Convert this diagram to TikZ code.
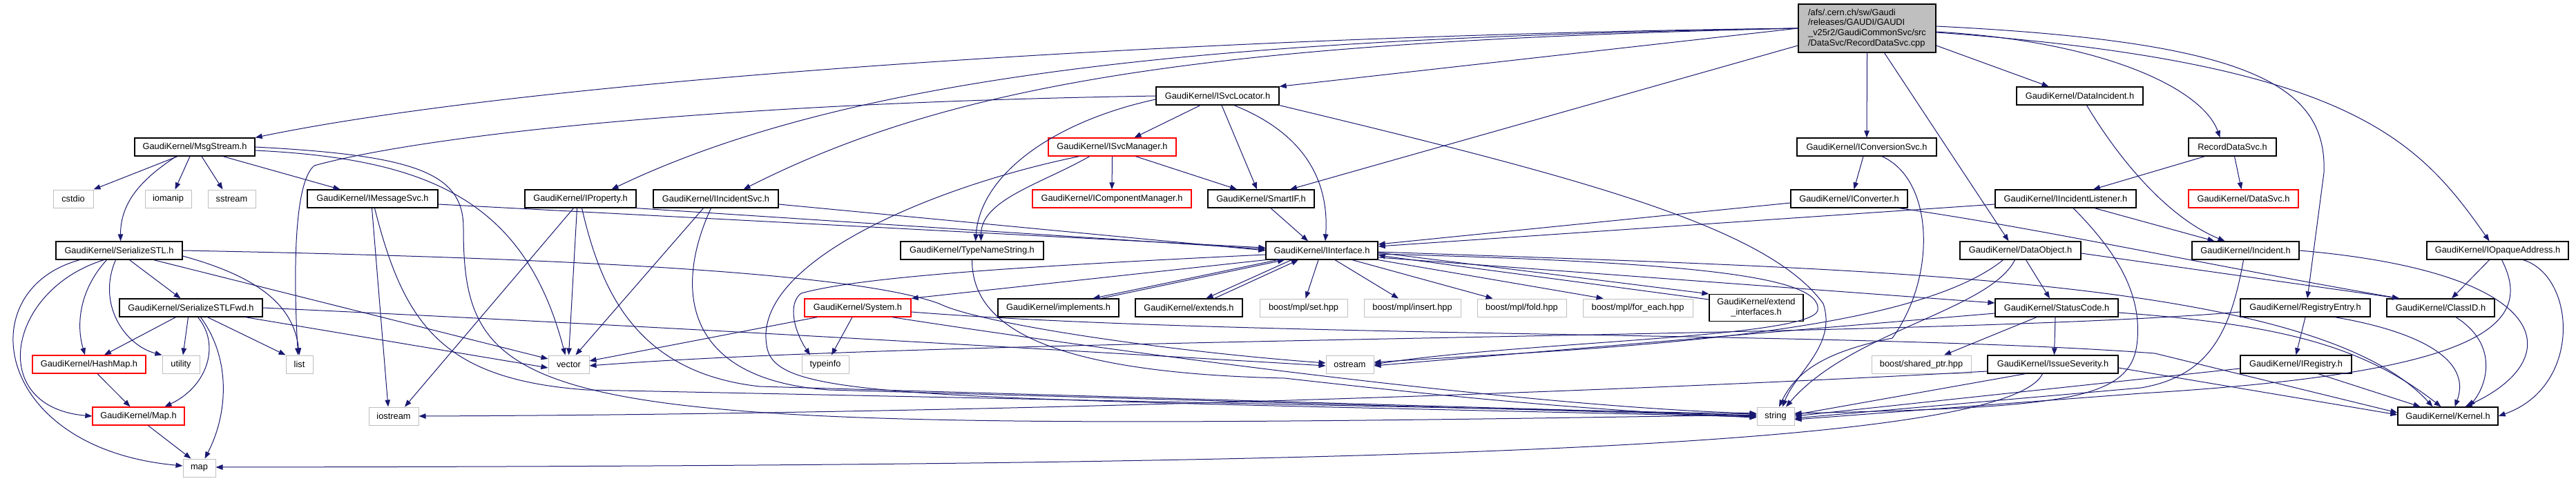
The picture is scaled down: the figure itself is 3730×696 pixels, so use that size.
\documentclass[tikz,border=0pt]{standalone}
\usepackage{fontspec}
\setmainfont{Liberation Sans}
\usepackage{tikz}
\usetikzlibrary{arrows.meta}
\definecolor{depblue}{HTML}{191970}

\begin{document}
\begin{tikzpicture}[
        x=1pt, y=-1pt,
        font=\fontsize{12.8}{14.8}\selectfont,
        hdr/.style={rectangle, draw=black, line width=1.3pt, fill=white, minimum height=26pt, inner xsep=4pt, inner ysep=2pt},
        redhdr/.style={hdr, draw=red},
        syshdr/.style={hdr, draw=gray!50, line width=1pt},
        dep/.style={draw=depblue, line width=1pt, -{Triangle[length=10pt,width=7.5pt]}}
    ]
        \fill[white] (0,0) rectangle (3730,696);
        \useasboundingbox (0,0) rectangle (3730,696);

        % Source file
        \node[hdr, fill=gray!50, minimum width=199pt, minimum height=70pt, align=left] (rec) at (2703.5,41)
            {/afs/.cern.ch/sw/Gaudi\\/releases/GAUDI/GAUDI\\\_v25r2/GaudiCommonSvc/src\\/DataSvc/RecordDataSvc.cpp};

        % Headers
        \node[hdr, minimum width=178pt] (iSvcLoc) at (1763,139) {GaudiKernel/ISvcLocator.h};
        \node[hdr, minimum width=183pt] (dataIncident) at (3011.5,139) {GaudiKernel/DataIncident.h};
        \node[hdr, minimum width=174pt] (msgStream) at (282,213) {GaudiKernel/MsgStream.h};
        \node[redhdr, minimum width=185pt] (iSvcMgr) at (1610.5,213) {GaudiKernel/ISvcManager.h};
        \node[hdr, minimum width=202pt] (iConvSvc) at (2703,213) {GaudiKernel/IConversionSvc.h};
        \node[hdr, minimum width=127pt] (recSvcH) at (3232.5,213) {RecordDataSvc.h};
        \node[syshdr, minimum width=58pt] (cstdio) at (106,288) {cstdio};
        \node[syshdr, minimum width=67pt] (iomanip) at (243.5,288) {iomanip};
        \node[syshdr, minimum width=69pt] (sstream) at (335.5,288) {sstream};
        \node[hdr, minimum width=189pt] (iMsgSvc) at (539.5,288) {GaudiKernel/IMessageSvc.h};
        \node[hdr, minimum width=161pt] (iProperty) at (840.5,288) {GaudiKernel/IProperty.h};
        \node[hdr, minimum width=181pt] (iIncSvc) at (1036.5,288) {GaudiKernel/IIncidentSvc.h};
        \node[redhdr, minimum width=230pt] (iCompMgr) at (1610,288) {GaudiKernel/IComponentManager.h};
        \node[hdr, minimum width=154pt] (smartIf) at (1826,288) {GaudiKernel/SmartIF.h};
        \node[hdr, minimum width=169pt] (iConverter) at (2677.5,288) {GaudiKernel/IConverter.h};
        \node[hdr, minimum width=204pt] (iIncListener) at (2991,288) {GaudiKernel/IIncidentListener.h};
        \node[redhdr, minimum width=159pt] (dataSvc) at (3248.5,288) {GaudiKernel/DataSvc.h};
        \node[hdr, minimum width=183pt] (serStl) at (172.5,363) {GaudiKernel/SerializeSTL.h};
        \node[hdr, minimum width=207pt] (typeName) at (1407.5,363) {GaudiKernel/TypeNameString.h};
        \node[hdr, minimum width=162pt] (iInterface) at (1914,363) {GaudiKernel/IInterface.h};
        \node[hdr, minimum width=175pt] (dataObject) at (2925.5,363) {GaudiKernel/DataObject.h};
        \node[hdr, minimum width=155pt] (incident) at (3251.5,363) {GaudiKernel/Incident.h};
        \node[hdr, minimum width=205pt] (iOpaque) at (3616.5,363) {GaudiKernel/IOpaqueAddress.h};
        \node[hdr, minimum width=207pt] (serStlFwd) at (276.5,446) {GaudiKernel/SerializeSTLFwd.h};
        \node[redhdr, minimum width=154pt] (system) at (1242,446) {GaudiKernel/System.h};
        \node[hdr, minimum width=175pt] (implements) at (1532.5,446) {GaudiKernel/implements.h};
        \node[hdr, minimum width=155pt] (extends) at (1721.5,446) {GaudiKernel/extends.h};
        \node[syshdr, minimum width=127pt] (mplSet) at (1887.5,446) {boost/mpl/set.hpp};
        \node[syshdr, minimum width=140pt] (mplInsert) at (2045,446) {boost/mpl/insert.hpp};
        \node[syshdr, minimum width=129pt] (mplFold) at (2203.5,446) {boost/mpl/fold.hpp};
        \node[syshdr, minimum width=159pt] (mplForEach) at (2371.5,446) {boost/mpl/for\_each.hpp};
        \node[hdr, minimum width=136pt, minimum height=39pt, align=center] (extendIf) at (2543,446) {GaudiKernel/extend\\\_interfaces.h};
        \node[hdr, minimum width=178pt] (statusCode) at (2978,446) {GaudiKernel/StatusCode.h};
        \node[hdr, minimum width=188pt] (regEntry) at (3338,446) {GaudiKernel/RegistryEntry.h};
        \node[hdr, minimum width=156pt] (classId) at (3534,446) {GaudiKernel/ClassID.h};
        \node[redhdr, minimum width=164pt] (hashMap) at (129,528) {GaudiKernel/HashMap.h};
        \node[syshdr, minimum width=54pt] (utility) at (262,528) {utility};
        \node[syshdr, minimum width=39pt] (stdList) at (433.5,528) {list};
        \node[syshdr, minimum width=59pt] (stdVector) at (823.5,528) {vector};
        \node[syshdr, minimum width=68pt] (typeinfo) at (1195,528) {typeinfo};
        \node[syshdr, minimum width=69pt] (ostream) at (1954.5,528) {ostream};
        \node[syshdr, minimum width=144pt] (sharedPtr) at (2782,528) {boost/shared\_ptr.hpp};
        \node[hdr, minimum width=189pt] (issueSev) at (2972.5,528) {GaudiKernel/IssueSeverity.h};
        \node[hdr, minimum width=161pt] (iRegistry) at (3324.5,528) {GaudiKernel/IRegistry.h};
        \node[redhdr, minimum width=133pt] (mapH) at (200.5,603) {GaudiKernel/Map.h};
        \node[syshdr, minimum width=72pt] (iostream) at (570,603) {iostream};
        \node[syshdr, minimum width=54pt] (stdString) at (2571,603) {string};
        \node[hdr, minimum width=145pt] (kernel) at (3544.5,603) {GaudiKernel/Kernel.h};
        \node[syshdr, minimum width=47pt] (stdMap) at (288.5,678) {map};

        % Links from the source file
        \draw[dep] (rec.west) .. controls (1800,50) and (800,110) .. (msgStream.north east);
        \draw[dep] (rec.west) .. controls (1800,55) and (1250,100) .. ([xshift=45pt]iProperty.north);
        \draw[dep] (rec.west) .. controls (1800,60) and (1400,110) .. ([xshift=40pt]iIncSvc.north);
        \draw[dep] (rec.west) -- (iSvcLoc.north east);
        \draw[dep] ([yshift=-25pt]rec.west) -- ([xshift=42pt]smartIf.north);
        \draw[dep] (rec.south) -- (iConvSvc.north);
        \draw[dep] ([xshift=25pt]rec.south) -- ([xshift=-17pt]dataObject.north);
        \draw[dep] ([yshift=-25pt]rec.east) -- ([xshift=-45pt]dataIncident.north);
        \draw[dep] ([yshift=-5pt]rec.east) .. controls (3050,60) and (3190,130) .. ([xshift=-18pt]recSvcH.north);
        \draw[dep] ([yshift=3pt]rec.east) .. controls (3250,60) and (3370,120) .. (3365,250) -- ([xshift=3pt]regEntry.north);
        \draw[dep] ([yshift=-6pt]rec.east) .. controls (3400,90) and (3500,200) .. ([xshift=-12pt]iOpaque.north);

        % MsgStream
        \draw[dep] ([xshift=-25pt]msgStream.south) -- (cstdio.north east);
        \draw[dep] ([xshift=-7pt]msgStream.south) -- ([xshift=10pt]iomanip.north);
        \draw[dep] ([xshift=10pt]msgStream.south) -- ([xshift=-13pt]sstream.north);
        \draw[dep] ([xshift=-27pt]msgStream.south) .. controls +(-45,30) and +(0,-60) .. ([xshift=2pt]serStl.north);
        \draw[dep] ([xshift=41pt]msgStream.south) -- ([xshift=-47pt]iMsgSvc.north);
        \draw[dep] ([yshift=-5pt]msgStream.east) .. controls (620,230) and (760,290) .. ([xshift=-5pt]stdVector.north);
        \draw[dep] (msgStream.east) .. controls (600,225) and (671,250) .. (671,330) .. controls (671,610) and (780,630) .. ([yshift=2pt]stdString.west);

        % IMessageSvc
        \draw[dep] ([xshift=-1pt]iMsgSvc.south) -- ([xshift=-8pt]iostream.north);
        \draw[dep] ([xshift=3pt]iMsgSvc.south) .. controls (585,470) and (640,550) .. (850,565) -- ([yshift=3pt]stdString.west);
        \draw[dep] ([yshift=-8pt]iMsgSvc.east) -- ([yshift=4pt]iInterface.west);

        % SerializeSTL
        \draw[dep] ([xshift=15pt]serStl.south) -- ([xshift=-15pt]serStlFwd.north);
        \draw[dep] ([xshift=-18pt]serStl.south) .. controls (115,420) and (110,470) .. ([xshift=-6pt]hashMap.north);
        \draw[dep] ([xshift=-22pt]serStl.south) .. controls (10,420) and (-20,590) .. (mapH.west);
        \draw[dep] ([xshift=-57pt]serStl.south) .. controls (-45,420) and (-10,650) .. ([yshift=3pt]stdMap.west);
        \draw[dep] ([xshift=-5pt]serStl.south) .. controls (140,440) and (180,500) .. (utility.north west);
        \draw[dep] ([yshift=-8pt]serStl.east) .. controls (370,400) and (425,440) .. (stdList.north);
        \draw[dep] ([xshift=50pt]serStl.south) -- ([yshift=8pt]stdVector.west);
        \draw[dep] (serStl.east) .. controls (900,375) and (1250,400) .. (1360,440) .. controls (1420,470) and (1700,510) .. ([yshift=2pt]ostream.west);

        % SerializeSTLFwd
        \draw[dep] ([xshift=-22pt]serStlFwd.south) -- ([xshift=22pt]hashMap.north);
        \draw[dep] ([xshift=-4pt]serStlFwd.south) -- ([xshift=3pt]utility.north);
        \draw[dep] ([xshift=10pt]serStlFwd.south) .. controls (320,500) and (300,560) .. ([xshift=38pt]mapH.north);
        \draw[dep] ([xshift=14pt]serStlFwd.south) .. controls (335,520) and (330,600) .. ([xshift=8pt]stdMap.north);
        \draw[dep] ([xshift=24pt]serStlFwd.south) -- (stdList.north west);
        \draw[dep] ([xshift=79pt]serStlFwd.south) -- ([yshift=-5pt]stdVector.west);
        \draw[dep] (serStlFwd.east) .. controls (900,470) and (1500,505) .. ([yshift=-2pt]ostream.west);

        % HashMap, Map
        \draw[dep] ([xshift=12pt]hashMap.south) -- ([xshift=-12pt]mapH.north);
        \draw[dep] ([xshift=14pt]mapH.south) -- ([xshift=-12pt]stdMap.north);

        % IProperty
        \draw[dep] ([xshift=-10pt]iProperty.south) -- ([xshift=16pt]iostream.north);
        \draw[dep] ([xshift=-5pt]iProperty.south) -- (stdVector.north);
        \draw[dep] ([xshift=2pt]iProperty.south) .. controls (870,420) and (920,540) .. (1100,560) -- ([yshift=1pt]stdString.west);
        \draw[dep] (iProperty.south east) -- ([yshift=2pt]iInterface.west);

        % IIncidentSvc
        \draw[dep] ([xshift=-18pt]iIncSvc.south) -- ([xshift=10pt]stdVector.north);
        \draw[dep] ([xshift=-7pt]iIncSvc.south) .. controls (975,420) and (990,550) .. (1200,565) -- (stdString.west);
        \draw[dep] ([yshift=-8pt]iIncSvc.east) -- (iInterface.west);

        % ISvcLocator
        \draw[dep] ([xshift=-25pt]iSvcLoc.south) -- ([xshift=32pt]iSvcMgr.north);
        \draw[dep] ([xshift=6pt]iSvcLoc.south) -- ([xshift=-6pt]smartIf.north);
        \draw[dep] ([xshift=24pt]iSvcLoc.south) .. controls +(100,40) and (1925,260) .. ([xshift=5pt]iInterface.north);
        \draw[dep] ([yshift=-5pt]iSvcLoc.west) .. controls (1530,175) and (1420,250) .. ([xshift=5pt]typeName.north);
        \draw[dep] (iSvcLoc.west) .. controls (1000,150) and (600,200) .. (455,240) .. controls (425,265) and (425,400) .. ([xshift=-2pt]stdList.north);
        \draw[dep] (iSvcLoc.south east) .. controls (2300,260) and (2560,330) .. (2640,440) .. controls (2660,500) and (2600,540) .. ([xshift=10pt]stdString.north);

        % ISvcManager
        \draw[dep] (iSvcMgr.south) -- (iCompMgr.north);
        \draw[dep] ([xshift=34pt]iSvcMgr.south) -- ([xshift=-35pt]smartIf.north);
        \draw[dep] ([xshift=-33pt]iSvcMgr.south) .. controls +(-70,40) and +(0,-60) .. ([xshift=13pt]typeName.north);
        \draw[dep] ([xshift=-48pt]iSvcMgr.south) .. controls (1350,270) and (1090,380) .. (1110,500) .. controls (1120,580) and (1300,575) .. ([yshift=-1pt]stdString.west);

        % TypeNameString, SmartIF
        \draw[dep] (typeName.south) .. controls +(0,90) and (1500,540) .. (1860,548) .. controls (2100,575) and (2300,595) .. ([yshift=-2pt]stdString.west);
        \draw[dep] ([xshift=14pt]smartIf.south) -- ([xshift=-20pt]iInterface.north);

        % IInterface
        \draw[dep] (iInterface.south west) -- (system.north east);
        \draw[dep] ([xshift=-64pt]iInterface.south) -- ([xshift=50pt]implements.north);
        \draw[dep] ([xshift=62pt]implements.north) -- ([xshift=-54pt]iInterface.south);
        \draw[dep] ([xshift=-44pt]iInterface.south) -- ([xshift=25pt]extends.north);
        \draw[dep] ([xshift=37pt]extends.north) -- ([xshift=-34pt]iInterface.south);
        \draw[dep] ([xshift=-5pt]iInterface.south) -- ([xshift=3pt]mplSet.north);
        \draw[dep] ([xshift=19pt]iInterface.south) -- ([xshift=-20pt]mplInsert.north);
        \draw[dep] ([xshift=44pt]iInterface.south) -- ([xshift=-42pt]mplFold.north);
        \draw[dep] (iInterface.south east) -- ([xshift=-50pt]mplForEach.north);
        \draw[dep] ([yshift=-3pt]iInterface.east) -- (extendIf.north west);
        \draw[dep] ([yshift=12pt]extendIf.west) -- ([yshift=-7pt]iInterface.east);
        \draw[dep] ([yshift=-6pt]iInterface.west) .. controls (1500,385) and (1250,400) .. (1160,425) .. controls (1140,440) and (1150,480) .. ([xshift=-22pt]typeinfo.north);
        \draw[dep] ([yshift=-10pt]iInterface.east) -- ([yshift=7pt]statusCode.west);
        \draw[dep] ([yshift=-2pt]iInterface.east) .. controls (2700,390) and (3350,400) .. ([xshift=-22pt]kernel.north);
        \draw[dep] ([yshift=-5pt]iInterface.east) .. controls (2450,380) and (2640,400) .. (2632,450) .. controls (2620,490) and (2200,495) .. (ostream.east);

        % System
        \draw[dep] ([xshift=-8pt]system.south) -- ([xshift=9pt]typeinfo.north);
        \draw[dep] ([xshift=-59pt]system.south) -- ([yshift=5pt]stdVector.east);
        \draw[dep] ([xshift=50pt]system.south) .. controls (1550,500) and (2200,590) .. ([yshift=4pt]stdString.west);
        \draw[dep] ([yshift=-6pt]system.east) .. controls (1800,490) and (2700,480) .. (3120,512) -- ([yshift=5pt]kernel.west);

        % IConversionSvc, IConverter
        \draw[dep] ([xshift=-5pt]iConvSvc.south) -- ([xshift=7pt]iConverter.north);
        \draw[dep] ([xshift=22pt]iConvSvc.south) .. controls (2800,260) and (2805,400) .. (2740,490) .. controls (2640,510) and (2600,540) .. ([xshift=5pt]stdString.north);
        \draw[dep] ([yshift=-6pt]iConverter.west) -- ([yshift=9pt]iInterface.east);
        \draw[dep] ([xshift=72pt]iConverter.south) .. controls (2950,330) and (3200,385) .. ([xshift=-60pt]classId.north);

        % DataIncident, RecordDataSvc.h, IIncidentListener
        \draw[dep] ([xshift=10pt]dataIncident.south) .. controls (3080,250) and (3150,320) .. ([xshift=-30pt]incident.north);
        \draw[dep] ([xshift=3pt]recSvcH.south) -- ([xshift=-3pt]dataSvc.north);
        \draw[dep] ([xshift=-40pt]recSvcH.south) -- ([xshift=40pt]iIncListener.north);
        \draw[dep] ([yshift=-8pt]iIncListener.west) -- ([yshift=6pt]iInterface.east);
        \draw[dep] ([xshift=42pt]iIncListener.south) -- ([xshift=-45pt]incident.north);
        \draw[dep] ([xshift=11pt]iIncListener.south) .. controls (3060,360) and (3100,420) .. (3095,490) .. controls (3090,580) and (3000,590) .. ([yshift=4pt]stdString.east);

        % DataObject, StatusCode
        \draw[dep] ([xshift=8pt]dataObject.south) -- ([xshift=-10pt]statusCode.north);
        \draw[dep] ([xshift=-8pt]dataObject.south) .. controls (2880,450) and (2680,480) .. ([xshift=15pt]stdString.north);
        \draw[dep] ([xshift=-25pt]dataObject.south) .. controls (2760,490) and (2300,505) .. ([yshift=3pt]ostream.east);
        \draw[dep] ([yshift=-4pt]dataObject.east) -- ([xshift=-60pt]classId.north);
        \draw[dep] ([yshift=-8pt]statusCode.west) -- ([yshift=-2pt]ostream.east);
        \draw[dep] ([xshift=-29pt]statusCode.south) -- ([xshift=33pt]sharedPtr.north);
        \draw[dep] ([xshift=-2pt]statusCode.south) -- ([xshift=2pt]issueSev.north);
        \draw[dep] ([yshift=-7pt]statusCode.east) .. controls (3300,470) and (3420,500) .. ([xshift=-10pt]kernel.north);

        % IssueSeverity
        \draw[dep] ([xshift=-40pt]issueSev.south) -- ([yshift=2pt]stdString.east);
        \draw[dep] ([yshift=-10pt]issueSev.west) .. controls (2300,570) and (1400,600) .. (iostream.east);
        \draw[dep] ([xshift=-15pt]issueSev.south) .. controls (2900,660) and (1800,675) .. ([yshift=1pt]stdMap.east);
        \draw[dep] ([yshift=-5pt]issueSev.east) -- ([yshift=2pt]kernel.west);

        % Incident, IOpaqueAddress, ClassID, RegistryEntry, IRegistry
        \draw[dep] ([xshift=-3pt]incident.south) .. controls (3230,480) and (3200,545) .. (3100,562) -- ([yshift=-3pt]stdString.east);
        \draw[dep] (incident.east) .. controls (3700,395) and (3720,520) .. ([xshift=25pt]kernel.north);
        \draw[dep] ([xshift=-12pt]iOpaque.south) -- ([xshift=16pt]classId.north);
        \draw[dep] ([xshift=6pt]iOpaque.south) .. controls (3670,470) and (3600,540) .. (3100,570) -- ([yshift=-5pt]stdString.east);
        \draw[dep] ([xshift=37pt]iOpaque.south) .. controls (3730,400) and (3740,560) .. (kernel.east);
        \draw[dep] ([xshift=22pt]classId.south) .. controls (3620,500) and (3600,560) .. ([xshift=30pt]kernel.north);
        \draw[dep] (regEntry.south) -- (iRegistry.north);
        \draw[dep] ([xshift=43pt]regEntry.south) .. controls (3500,480) and (3580,520) .. ([xshift=10pt]kernel.north);
        \draw[dep] ([yshift=-6pt]regEntry.west) .. controls (2800,490) and (1400,488) .. ([yshift=-2pt]stdVector.east);
        \draw[dep] ([xshift=32pt]iRegistry.south) -- ([xshift=-40pt]kernel.north);
        \draw[dep] ([yshift=-6pt]iRegistry.west) -- (stdString.east);

    \end{tikzpicture}
\end{document}
